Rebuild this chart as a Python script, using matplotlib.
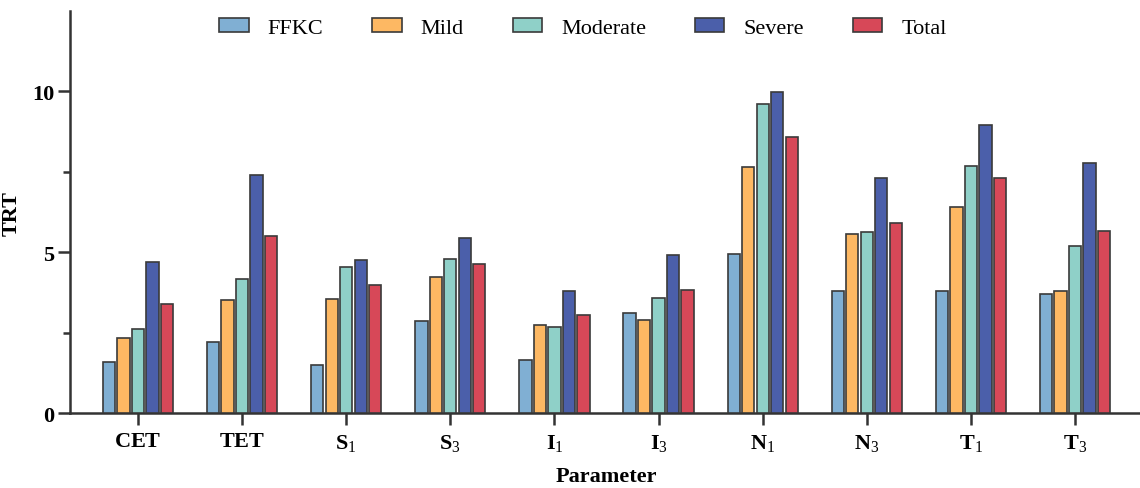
import numpy as np
import matplotlib
matplotlib.use("Agg")
import matplotlib.pyplot as plt

plt.rcParams['font.family'] = ['Liberation Serif', 'DejaVu Serif']
plt.rcParams['mathtext.fontset'] = 'custom'
plt.rcParams['mathtext.rm'] = 'Liberation Serif'
plt.rcParams['mathtext.bf'] = 'Liberation Serif:bold'

params = [r'$\mathbf{CET}$', r'$\mathbf{TET}$', r'$\mathbf{S}_1$', r'$\mathbf{S}_3$',
          r'$\mathbf{I}_1$', r'$\mathbf{I}_3$', r'$\mathbf{N}_1$', r'$\mathbf{N}_3$',
          r'$\mathbf{T}_1$', r'$\mathbf{T}_3$']
groups = ['FFKC', 'Mild', 'Moderate', 'Severe', 'Total']

ffkc     = [1.58, 2.20, 1.50, 2.87, 1.64, 3.13, 4.94, 3.81, 3.81, 3.72]
mild     = [2.35, 3.51, 3.54, 4.23, 2.74, 2.91, 7.64, 5.56, 6.41, 3.81]
moderate = [2.63, 4.16, 4.53, 4.80, 2.67, 3.59, 9.61, 5.63, 7.69, 5.21]
severe   = [4.69, 7.40, 4.77, 5.45, 3.81, 4.93, 9.99, 7.32, 8.96, 7.77]
total    = [3.40, 5.52, 4.00, 4.65, 3.04, 3.84, 8.58, 5.90, 7.30, 5.65]

colors = ['#80AFD3', '#FDB863', '#8FD0C8', '#4B5FAA', '#D74858']

fig = plt.figure(figsize=(11.4, 4.89), dpi=100)
ax = fig.add_axes([0.0614, 0.1528, 0.941, 0.8227])

x = np.arange(len(params))
pitch = 0.139
width = 0.118
for i, (vals, name) in enumerate(zip([ffkc, mild, moderate, severe, total], groups)):
    ax.bar(x + (i - 2) * pitch, vals, width, color=colors[i], edgecolor='#3a3a3a',
           linewidth=1.2, label=name, zorder=3)

ax.set_xlim(-0.653, 9.65)
ax.set_ylim(0, 12.5)
ax.set_yticks([0, 5, 10])
ax.set_yticks([2.5, 7.5], minor=True)
ax.set_xticks(x)
ax.set_xticklabels(params)

for s in ['top', 'right']:
    ax.spines[s].set_visible(False)
for s in ['left', 'bottom']:
    ax.spines[s].set_linewidth(1.8)
    ax.spines[s].set_color('#333333')

ax.tick_params(axis='both', which='major', length=8.5, width=1.8, color='#333333',
               labelsize=16, pad=3)
ax.tick_params(axis='y', which='minor', length=5, width=1.8, color='#333333')
ax.tick_params(axis='x', pad=5)
for lab in ax.get_yticklabels():
    lab.set_fontweight('bold')

ax.set_ylabel('TRT', fontsize=16, fontweight='bold')
ax.yaxis.set_label_coords(-0.045, 0.5)
ax.set_xlabel('Parameter', fontsize=16, fontweight='bold', labelpad=9)

fig.legend(loc='center', bbox_to_anchor=(583 / 1140, 1 - 29 / 489), ncol=5, frameon=False,
           fontsize=16, handlelength=1.32, handleheight=0.6, handletextpad=0.86,
           columnspacing=2.2)

fig.savefig('out.png', dpi=100)
